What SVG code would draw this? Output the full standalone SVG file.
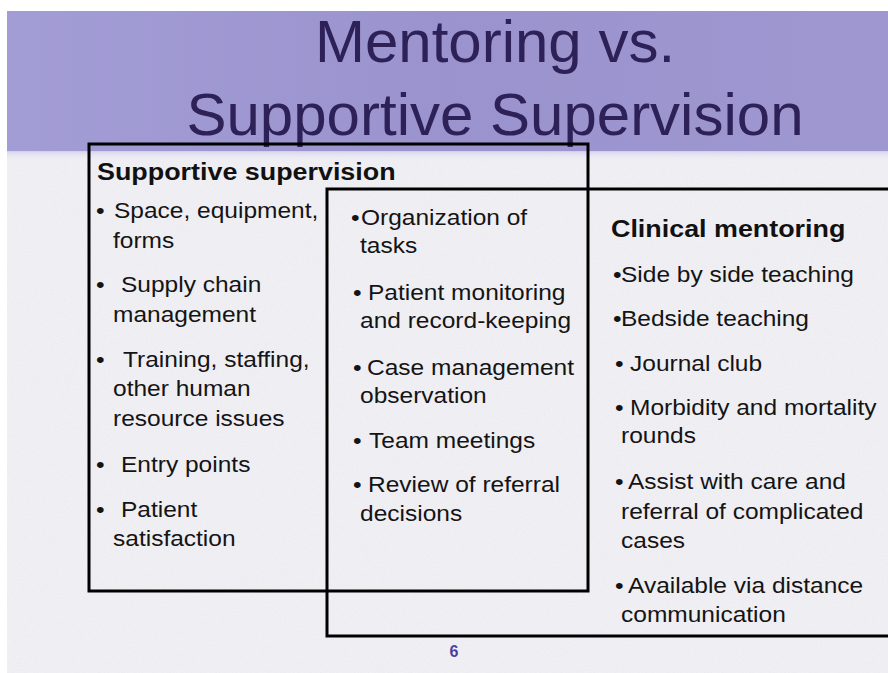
<svg xmlns="http://www.w3.org/2000/svg" width="888" height="673" viewBox="0 0 888 673">
  <defs>
    <linearGradient id="band" x1="0" y1="0" x2="1" y2="0">
      <stop offset="0" stop-color="#a39dd6"/>
      <stop offset="0.5" stop-color="#9a93cd"/>
      <stop offset="1" stop-color="#9e97d0"/>
    </linearGradient>
    <linearGradient id="edge" x1="0" y1="0" x2="0" y2="1">
      <stop offset="0" stop-color="#d6d2ec"/>
      <stop offset="1" stop-color="#efeef4" stop-opacity="0"/>
    </linearGradient>
    <filter id="paper" x="0" y="0" width="100%" height="100%">
      <feTurbulence type="fractalNoise" baseFrequency="0.9" numOctaves="2" seed="3" result="n"/>
      <feColorMatrix in="n" type="matrix" values="0 0 0 0 0.55  0 0 0 0 0.55  0 0 0 0 0.6  0.25 0 0 0 -0.1"/>
    </filter>
    <style>
      .title { font-family: "Liberation Sans", Arial, sans-serif; font-size: 60px; fill: #2e2158; text-anchor: middle; }
      .body { font-family: "Liberation Sans", Arial, sans-serif; font-size: 21.5px; fill: #141414; }
      .head { font-family: "Liberation Sans", Arial, sans-serif; font-size: 24px; font-weight: bold; fill: #111111; }
      .box { fill: none; stroke: #000000; stroke-width: 3; }
      .num { font-family: "Liberation Sans", Arial, sans-serif; font-size: 16px; font-weight: bold; fill: #4d3f9e; text-anchor: middle; }
    </style>
  </defs>

  <!-- background -->
  <rect x="0" y="0" width="888" height="673" fill="#ffffff"/>
  <rect x="7" y="11" width="881" height="662" fill="#f0eff4"/>
  <rect x="7" y="11" width="881" height="662" filter="url(#paper)"/>
  <rect x="7" y="11" width="881" height="141" fill="url(#band)"/>
  <rect x="7" y="151" width="881" height="10" fill="url(#edge)"/>

  <!-- title -->
  <g id="title">
    <text class="title" x="495" y="62">Mentoring vs.</text>
    <text class="title" x="495" y="135">Supportive Supervision</text>
  </g>

  <!-- frames -->
  <g id="connectors">
    <rect class="box" x="89" y="144" width="499" height="447"/>
    <path class="box" d="M 895 189 L 327 189 L 327 636 L 895 636"/>
  </g>

  <!-- Supportive supervision -->
  <g id="supportive-supervision">
    <text class="head" transform="translate(97,180) scale(1.12,1)">Supportive supervision</text>
    <text class="body" transform="translate(96,218) scale(1.14,1)">•</text>
    <text class="body" transform="translate(114,218) scale(1.14,1)">Space, equipment,</text>
    <text class="body" transform="translate(113,248) scale(1.14,1)">forms</text>
    <text class="body" transform="translate(96,292) scale(1.14,1)">•</text>
    <text class="body" transform="translate(121,292) scale(1.14,1)">Supply chain</text>
    <text class="body" transform="translate(113,322) scale(1.14,1)">management</text>
    <text class="body" transform="translate(96,367) scale(1.14,1)">•</text>
    <text class="body" transform="translate(123,367) scale(1.14,1)">Training, staffing,</text>
    <text class="body" transform="translate(113,396) scale(1.14,1)">other human</text>
    <text class="body" transform="translate(113,426) scale(1.14,1)">resource issues</text>
    <text class="body" transform="translate(96,472) scale(1.14,1)">•</text>
    <text class="body" transform="translate(121,472) scale(1.14,1)">Entry points</text>
    <text class="body" transform="translate(96,517) scale(1.14,1)">•</text>
    <text class="body" transform="translate(121,517) scale(1.14,1)">Patient</text>
    <text class="body" transform="translate(113,546) scale(1.14,1)">satisfaction</text>
  </g>

  <!-- Shared -->
  <g id="shared">
    <text class="body" transform="translate(351,225) scale(1.14,1)">•</text>
    <text class="body" transform="translate(361,225) scale(1.14,1)">Organization of</text>
    <text class="body" transform="translate(360,253) scale(1.14,1)">tasks</text>
    <text class="body" transform="translate(353,300) scale(1.14,1)">•</text>
    <text class="body" transform="translate(368,300) scale(1.14,1)">Patient monitoring</text>
    <text class="body" transform="translate(360,328) scale(1.14,1)">and record-keeping</text>
    <text class="body" transform="translate(353,375) scale(1.14,1)">•</text>
    <text class="body" transform="translate(367,375) scale(1.14,1)">Case management</text>
    <text class="body" transform="translate(360,403) scale(1.14,1)">observation</text>
    <text class="body" transform="translate(353,448) scale(1.14,1)">•</text>
    <text class="body" transform="translate(369,448) scale(1.14,1)">Team meetings</text>
    <text class="body" transform="translate(353,492) scale(1.14,1)">•</text>
    <text class="body" transform="translate(368,492) scale(1.14,1)">Review of referral</text>
    <text class="body" transform="translate(360,521) scale(1.14,1)">decisions</text>
  </g>

  <!-- Clinical mentoring -->
  <g id="clinical-mentoring">
    <text class="head" transform="translate(611,237) scale(1.12,1)">Clinical mentoring</text>
    <text class="body" transform="translate(613,282) scale(1.14,1)">•</text>
    <text class="body" transform="translate(621,282) scale(1.14,1)">Side by side teaching</text>
    <text class="body" transform="translate(613,326) scale(1.14,1)">•</text>
    <text class="body" transform="translate(621,326) scale(1.14,1)">Bedside teaching</text>
    <text class="body" transform="translate(615,371) scale(1.14,1)">•</text>
    <text class="body" transform="translate(630,371) scale(1.14,1)">Journal club</text>
    <text class="body" transform="translate(615,415) scale(1.14,1)">•</text>
    <text class="body" transform="translate(630,415) scale(1.14,1)">Morbidity and mortality</text>
    <text class="body" transform="translate(621,443) scale(1.14,1)">rounds</text>
    <text class="body" transform="translate(615,489) scale(1.14,1)">•</text>
    <text class="body" transform="translate(628,489) scale(1.14,1)">Assist with care and</text>
    <text class="body" transform="translate(621,519) scale(1.14,1)">referral of complicated</text>
    <text class="body" transform="translate(621,548) scale(1.14,1)">cases</text>
    <text class="body" transform="translate(615,593) scale(1.14,1)">•</text>
    <text class="body" transform="translate(628,593) scale(1.14,1)">Available via distance</text>
    <text class="body" transform="translate(621,622) scale(1.14,1)">communication</text>
  </g>

  <text class="num" x="454" y="657">6</text>
</svg>
